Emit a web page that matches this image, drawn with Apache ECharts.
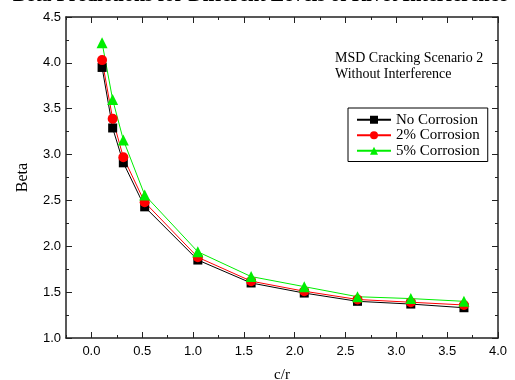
<!DOCTYPE html>
<html>
<head>
<meta charset="utf-8">
<script src="https://cdn.jsdelivr.net/npm/echarts@6/dist/echarts.min.js"></script>
<style>html,body{margin:0;padding:0;background:#fff}#c{width:515px;height:380px}</style>
</head>
<body>
<div id="c"></div>
<script>
const crValues = [0.105, 0.209, 0.314, 0.524, 1.047, 1.571, 2.094, 2.618, 3.142, 3.665];
const noCorrosion = [3.95, 3.29, 2.91, 2.43, 1.85, 1.60, 1.49, 1.40, 1.37, 1.33];
const corrosion2 = [4.03, 3.39, 2.97, 2.48, 1.88, 1.62, 1.51, 1.42, 1.39, 1.36];
const corrosion5 = [4.22, 3.60, 3.16, 2.56, 1.94, 1.67, 1.56, 1.45, 1.43, 1.40];
const seriesNames = ['No Corrosion', '2% Corrosion', '5% Corrosion'];
const xMajorTicks = [0, 0.5, 1.0, 1.5, 2.0, 2.5, 3.0, 3.5, 4.0];
const xMinorTicks = [-0.25, 0.25, 0.75, 1.25, 1.75, 2.25, 2.75, 3.25, 3.75];
const titleText = '- Beta Predictions for Different Levels of Rivet Interference';
const noteLines = ['MSD Cracking Scenario 2', 'Without Interference'];

const pair = (xs, ys) => xs.map((x, i) => [x, ys[i]]);
const axisColor = '#222';
const serif = '"Liberation Serif", "Times New Roman", serif';
const sans = '"Liberation Sans", Arial, sans-serif';

const chart = echarts.init(document.getElementById('c'), null, {renderer: 'canvas'});
const baseX = {
  type: 'value', min: -0.25, max: 4.0, gridIndex: 0,
  splitLine: {show: false},
  axisLine: {show: true, onZero: false, lineStyle: {color: axisColor, width: 1.5}}
};
chart.setOption({
  animation: false,
  grid: {left: 66, right: 17, top: 17, bottom: 42, containLabel: false, outerBoundsMode: 'none'},
  graphic: [
    {type: 'text', x: 1, y: -14, style: {text: titleText, font: 'bold 20px ' + serif, fill: '#000', textVerticalAlign: 'top'}},
    {type: 'text', left: 335, top: 50, style: {text: noteLines.join('\n'), font: '14px ' + serif, lineHeight: 16, fill: '#000'}}
  ],
  legend: {
    orient: 'vertical', left: 348, top: 108,
    width: 139,
    data: seriesNames,
    itemWidth: 34, itemHeight: 10, itemGap: 0,
    padding: [4, 8, 3, 8],
    borderColor: '#000', borderWidth: 1, borderRadius: 0,
    textStyle: {fontFamily: serif, fontSize: 15, lineHeight: 15.5, color: '#000', padding: [0, 0, 0, 0]}
  },
  xAxis: [
    Object.assign({}, baseX, {
      position: 'bottom',
      name: 'c/r', nameLocation: 'middle', nameGap: 30,
      nameTextStyle: {fontFamily: serif, fontSize: 15, color: '#000'},
      axisTick: {show: true, inside: true, length: 6, customValues: xMajorTicks, lineStyle: {color: axisColor}},
      axisLabel: {show: true, customValues: xMajorTicks, margin: 7, fontFamily: sans, fontSize: 13, color: '#000',
        formatter: v => v.toFixed(1)}
    }),
    Object.assign({}, baseX, {
      position: 'bottom',
      axisLine: {show: false},
      axisTick: {show: true, inside: true, length: 3, customValues: xMinorTicks, lineStyle: {color: axisColor}},
      axisLabel: {show: false}
    }),
    Object.assign({}, baseX, {
      position: 'top',
      axisTick: {show: true, inside: true, length: 6, customValues: xMajorTicks, lineStyle: {color: axisColor}},
      axisLabel: {show: false}
    }),
    Object.assign({}, baseX, {
      position: 'top',
      axisLine: {show: false},
      axisTick: {show: true, inside: true, length: 3, customValues: xMinorTicks, lineStyle: {color: axisColor}},
      axisLabel: {show: false}
    })
  ],
  yAxis: [
    {
      type: 'value', min: 1.0, max: 4.5, interval: 0.5, position: 'left',
      name: 'Beta', nameLocation: 'middle', nameGap: 35, nameRotate: 90,
      nameTextStyle: {fontFamily: serif, fontSize: 16, color: '#000'},
      splitLine: {show: false},
      axisLine: {show: true, onZero: false, lineStyle: {color: axisColor, width: 1.5}},
      axisTick: {show: true, inside: true, length: 6, lineStyle: {color: axisColor}},
      minorTick: {show: true, splitNumber: 2, length: 3, lineStyle: {color: axisColor}},
      axisLabel: {margin: 5, fontFamily: sans, fontSize: 13, color: '#000', formatter: v => v.toFixed(1)}
    },
    {
      type: 'value', min: 1.0, max: 4.5, interval: 0.5, position: 'right',
      splitLine: {show: false},
      axisLine: {show: true, onZero: false, lineStyle: {color: axisColor, width: 1.5}},
      axisTick: {show: true, inside: true, length: 6, lineStyle: {color: axisColor}},
      minorTick: {show: true, splitNumber: 2, length: 3, lineStyle: {color: axisColor}},
      axisLabel: {show: false}
    }
  ],
  series: [
    {name: seriesNames[0], type: 'line', data: pair(crValues, noCorrosion), symbol: 'rect', symbolSize: 9,
      itemStyle: {color: '#000'}, lineStyle: {color: '#000', width: 1}},
    {name: seriesNames[1], type: 'line', data: pair(crValues, corrosion2), symbol: 'circle', symbolSize: 10,
      itemStyle: {color: '#ff0000'}, lineStyle: {color: '#ff0000', width: 1}},
    {name: seriesNames[2], type: 'line', data: pair(crValues, corrosion5), symbol: 'triangle', symbolSize: 11,
      itemStyle: {color: '#00ee00'}, lineStyle: {color: '#00ee00', width: 1}}
  ]
});
</script>
</body>
</html>
